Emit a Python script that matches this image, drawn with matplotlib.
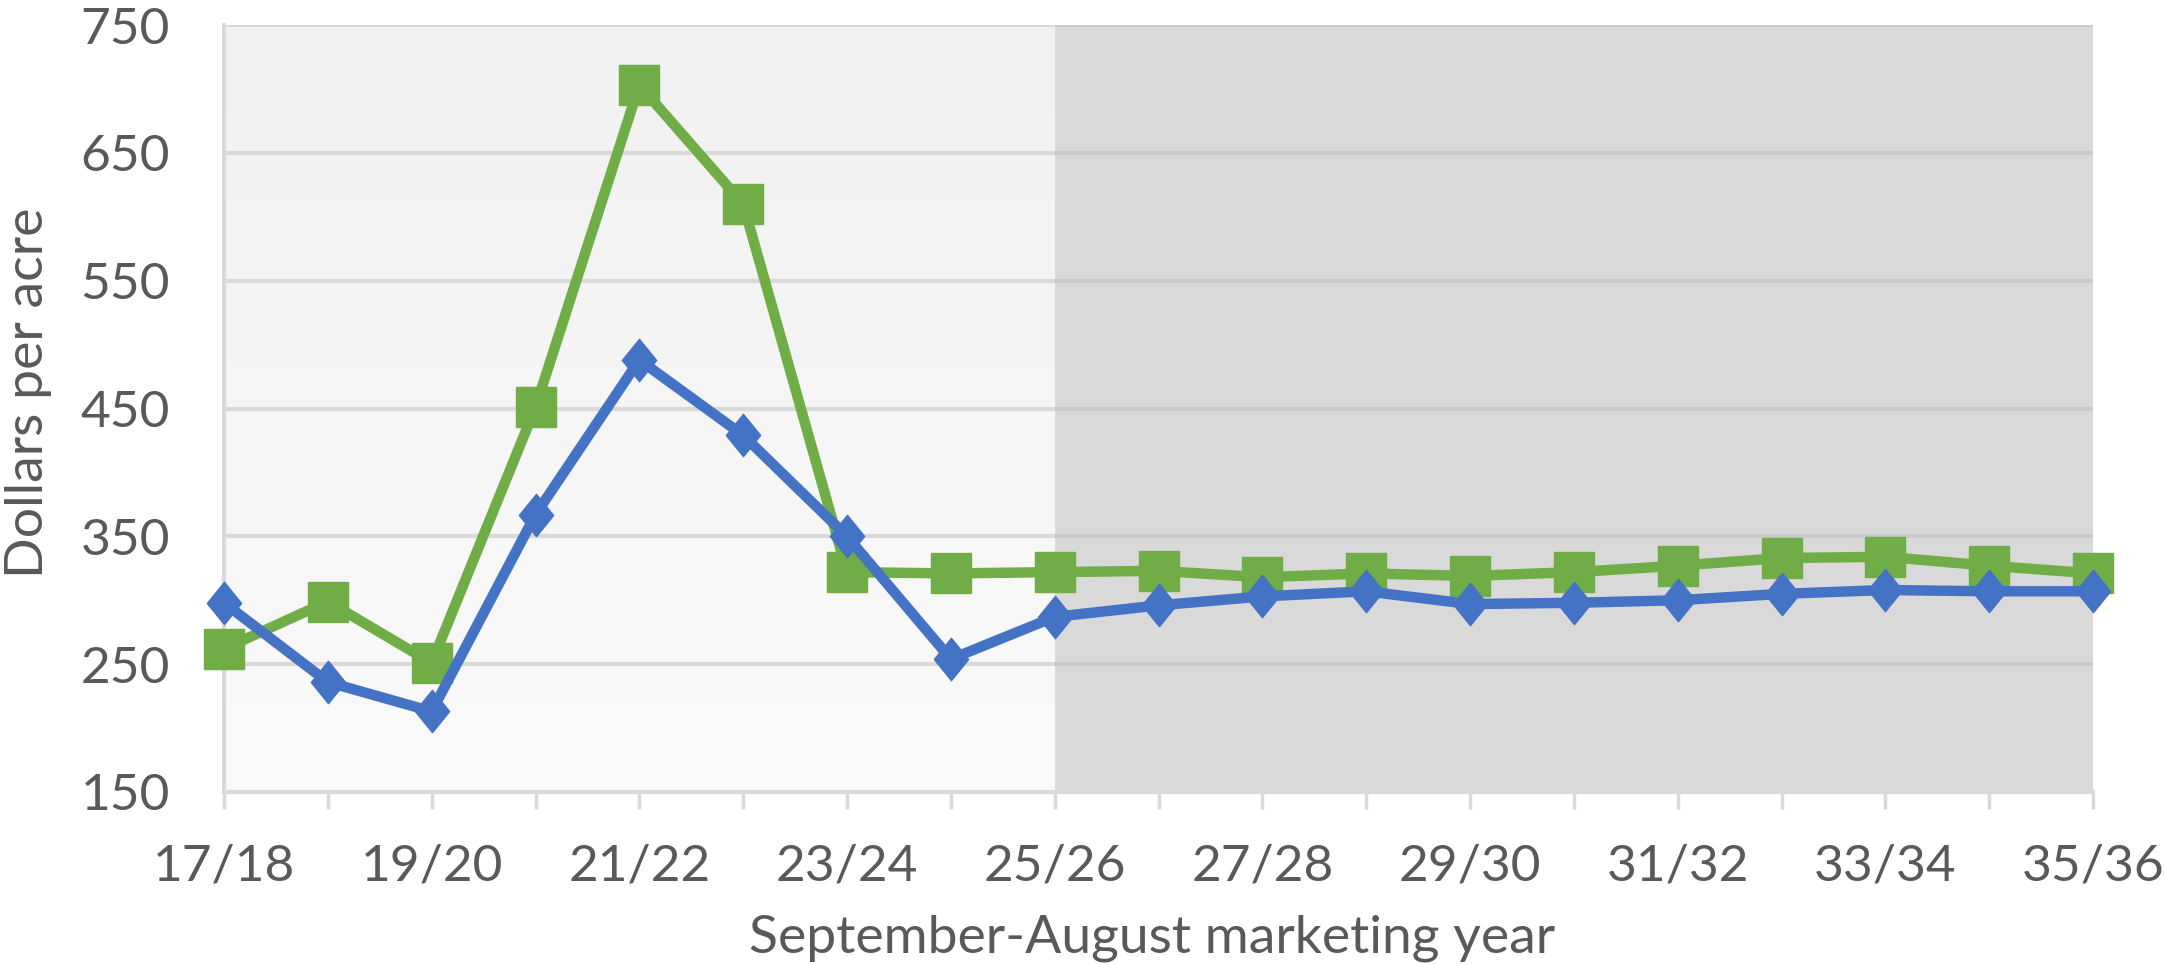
import matplotlib
matplotlib.use("Agg")
import matplotlib.pyplot as plt
import numpy as np
from matplotlib.colors import LinearSegmentedColormap
from matplotlib.path import Path

years = ["17/18", "18/19", "19/20", "20/21", "21/22", "22/23", "23/24", "24/25", "25/26",
         "26/27", "27/28", "28/29", "29/30", "30/31", "31/32", "32/33", "33/34", "34/35", "35/36"]
green_vals = [262, 299, 251, 451, 703, 610, 322, 321, 322, 323, 318, 321, 319, 322, 327, 333, 334, 327, 321]
blue_vals = [298, 236, 213, 367, 488, 429, 350, 254, 287, 296, 303, 307, 297, 298, 300, 305, 308, 307, 307]
y_ticks = [150, 250, 350, 450, 550, 650, 750]
projection_start = "25/26"

plt.rcParams['font.family'] = ['Lato', 'DejaVu Sans']

W, H = 2166, 964
fig = plt.figure(figsize=(W / 100, H / 100), dpi=100)
L, R, T, B = 224, 2093, 25, 792
ax = fig.add_axes([L / W, 1 - B / H, (R - L) / W, (B - T) / H])

x = np.arange(len(years))
xs = years.index(projection_start)
ymin, ymax = y_ticks[0], y_ticks[-1]

# backgrounds
grad = np.linspace(0, 1, 256).reshape(-1, 1)
cmap = LinearSegmentedColormap.from_list("g", ["#FAFAFA", "#F1F1F1"])
ax.imshow(grad, extent=[0, xs, ymax, ymin], cmap=cmap, aspect='auto', zorder=0, origin='upper')
ax.axvspan(xs, len(years) - 1, color="#D9D9D9", zorder=0, lw=0)

# gridlines
for yv in y_ticks[1:]:
    ax.hlines(yv, 0, xs, color="#D9D9D9", lw=3, zorder=1)
    ax.hlines(yv, xs, len(years) - 1, color="#CACACA", lw=3, zorder=1)

diamond = Path([(0, 1), (0.81, 0), (0, -1), (-0.81, 0), (0, 1)],
               [Path.MOVETO, Path.LINETO, Path.LINETO, Path.LINETO, Path.CLOSEPOLY])

ax.plot(x, green_vals, color="#70AD47", lw=7.5, marker='s', ms=29.5, mec="#70AD47", mew=1,
        zorder=3, clip_on=False)
ax.plot(x, blue_vals, color="#4472C4", lw=7.5, marker=diamond, ms=30.5, mec="#4472C4", mew=1,
        zorder=4, clip_on=False)

ax.set_xlim(0, len(years) - 1)
ax.set_ylim(ymin, ymax)
ax.set_xticks(x)
ax.set_xticklabels([lab if i % 2 == 0 else "" for i, lab in enumerate(years)])
ax.set_yticks(y_ticks)
fs = 37
ax.tick_params(axis='x', length=12.5, width=2.5, color="#D9D9D9", labelsize=fs, labelcolor="#595959", pad=24.5)
ax.tick_params(axis='y', length=0, labelsize=fs, labelcolor="#595959", pad=39)

for s in ['top', 'right']:
    ax.spines[s].set_visible(False)
for s in ['left', 'bottom']:
    ax.spines[s].set_color("#D9D9D9")
    ax.spines[s].set_linewidth(3)
    ax.spines[s].set_zorder(2)

lfs = 38.5
ax.set_xlabel("September-August marketing year", fontsize=lfs, color="#595959", va='baseline')
ax.xaxis.set_label_coords(0.5 - 6 / (R - L), -(952 - B) / (B - T))
ax.set_ylabel("Dollars per acre", fontsize=lfs, color="#595959", va='center')
ax.yaxis.set_label_coords((29 - L) / (R - L), (B - 393) / (B - T))

fig.savefig("out.png", dpi=100)
